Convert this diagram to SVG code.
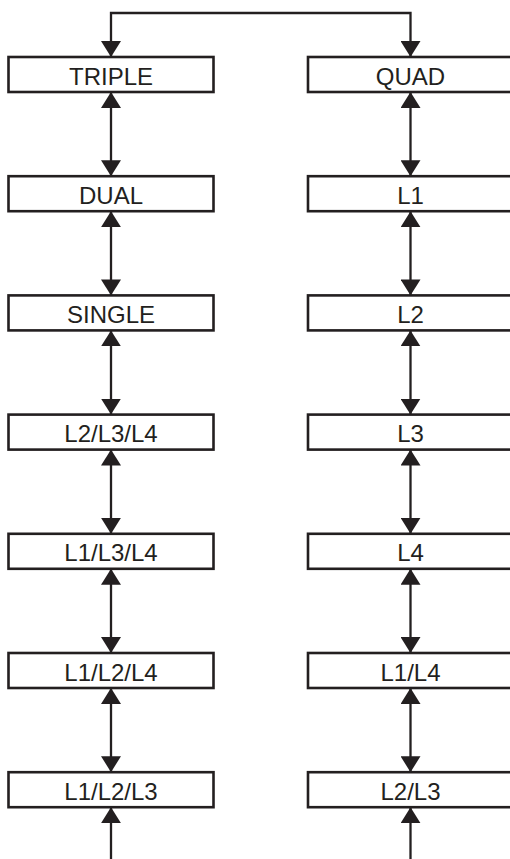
<svg xmlns="http://www.w3.org/2000/svg" width="510" height="859" viewBox="0 0 510 859">
<style>
.box rect{fill:#fff;stroke:#231f20;stroke-width:2.6}
.box text{font-family:"Liberation Sans",Arial,sans-serif;font-size:24px;fill:#231f20;text-anchor:middle}
.conn{fill:none;stroke:#231f20;stroke-width:2.3}
</style>
<defs>
<marker id="ah" viewBox="0 0 16 20" refX="16" refY="10" markerWidth="16" markerHeight="20" markerUnits="userSpaceOnUse" orient="auto-start-reverse">
<path d="M0,0 L16,10 L0,20 z" fill="#231f20"/>
</marker>
</defs>
<rect width="510" height="859" fill="#fff"/>
<g id="connectors">
<path class="conn" d="M111 57 V13 H410.5 V57" marker-start="url(#ah)" marker-end="url(#ah)"/>
<line class="conn" x1="111" y1="92" x2="111" y2="176.2" marker-start="url(#ah)" marker-end="url(#ah)"/>
<line class="conn" x1="111" y1="211.2" x2="111" y2="295.4" marker-start="url(#ah)" marker-end="url(#ah)"/>
<line class="conn" x1="111" y1="330.4" x2="111" y2="414.6" marker-start="url(#ah)" marker-end="url(#ah)"/>
<line class="conn" x1="111" y1="449.6" x2="111" y2="533.8" marker-start="url(#ah)" marker-end="url(#ah)"/>
<line class="conn" x1="111" y1="568.8" x2="111" y2="653" marker-start="url(#ah)" marker-end="url(#ah)"/>
<line class="conn" x1="111" y1="688" x2="111" y2="772.2" marker-start="url(#ah)" marker-end="url(#ah)"/>
<line class="conn" x1="111" y1="859" x2="111" y2="807.2" marker-end="url(#ah)"/>
<line class="conn" x1="410.5" y1="92" x2="410.5" y2="176.2" marker-start="url(#ah)" marker-end="url(#ah)"/>
<line class="conn" x1="410.5" y1="211.2" x2="410.5" y2="295.4" marker-start="url(#ah)" marker-end="url(#ah)"/>
<line class="conn" x1="410.5" y1="330.4" x2="410.5" y2="414.6" marker-start="url(#ah)" marker-end="url(#ah)"/>
<line class="conn" x1="410.5" y1="449.6" x2="410.5" y2="533.8" marker-start="url(#ah)" marker-end="url(#ah)"/>
<line class="conn" x1="410.5" y1="568.8" x2="410.5" y2="653" marker-start="url(#ah)" marker-end="url(#ah)"/>
<line class="conn" x1="410.5" y1="688" x2="410.5" y2="772.2" marker-start="url(#ah)" marker-end="url(#ah)"/>
<line class="conn" x1="410.5" y1="859" x2="410.5" y2="807.2" marker-end="url(#ah)"/>
</g>
<g id="triple" class="box"><rect x="8.5" y="57" width="205" height="35"/><text x="111" y="84.5">TRIPLE</text></g>
<g id="dual" class="box"><rect x="8.5" y="176.2" width="205" height="35"/><text x="111" y="203.7">DUAL</text></g>
<g id="single" class="box"><rect x="8.5" y="295.4" width="205" height="35"/><text x="111" y="322.9">SINGLE</text></g>
<g id="l2l3l4" class="box"><rect x="8.5" y="414.6" width="205" height="35"/><text x="111" y="442.1">L2/L3/L4</text></g>
<g id="l1l3l4" class="box"><rect x="8.5" y="533.8" width="205" height="35"/><text x="111" y="561.3">L1/L3/L4</text></g>
<g id="l1l2l4" class="box"><rect x="8.5" y="653" width="205" height="35"/><text x="111" y="680.5">L1/L2/L4</text></g>
<g id="l1l2l3" class="box"><rect x="8.5" y="772.2" width="205" height="35"/><text x="111" y="799.7">L1/L2/L3</text></g>
<g id="quad" class="box"><rect x="308" y="57" width="205" height="35"/><text x="410.5" y="84.5">QUAD</text></g>
<g id="l1" class="box"><rect x="308" y="176.2" width="205" height="35"/><text x="410.5" y="203.7">L1</text></g>
<g id="l2" class="box"><rect x="308" y="295.4" width="205" height="35"/><text x="410.5" y="322.9">L2</text></g>
<g id="l3" class="box"><rect x="308" y="414.6" width="205" height="35"/><text x="410.5" y="442.1">L3</text></g>
<g id="l4" class="box"><rect x="308" y="533.8" width="205" height="35"/><text x="410.5" y="561.3">L4</text></g>
<g id="l1l4" class="box"><rect x="308" y="653" width="205" height="35"/><text x="410.5" y="680.5">L1/L4</text></g>
<g id="l2l3" class="box"><rect x="308" y="772.2" width="205" height="35"/><text x="410.5" y="799.7">L2/L3</text></g>
</svg>
